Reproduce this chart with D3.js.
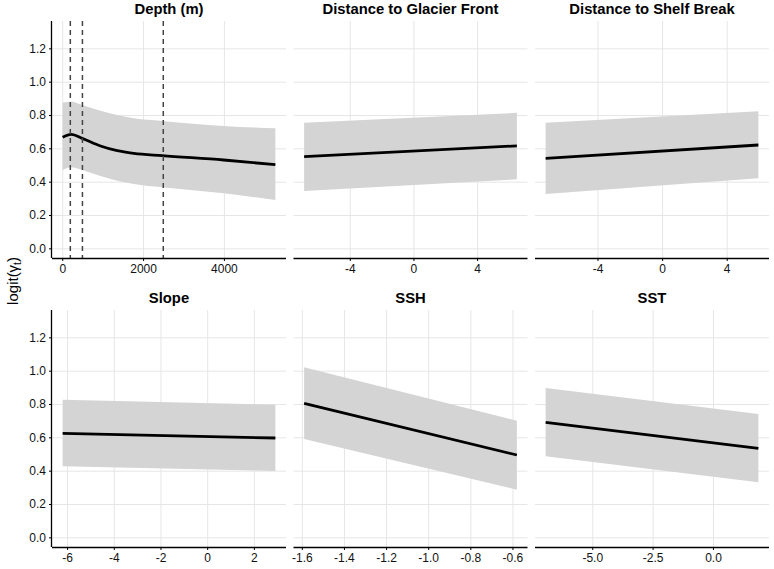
<!DOCTYPE html>
<html>
<head>
<meta charset="utf-8">
<script src="https://cdn.jsdelivr.net/npm/d3@7"></script>
<style>
body { margin: 0; background: #fff; }
svg { font-family: "Liberation Sans", Arial, sans-serif; }
.grid line { stroke: #e6e6e6; stroke-width: 1; }
.tick text { fill: #111; font-size: 12px; }
.title { font-weight: bold; font-size: 14.8px; }
</style>
</head>
<body>
<svg id="chart" width="774" height="569"></svg>
<script>
// panel titles, in facet order
const titles = ['Depth (m)', 'Distance to Glacier Front', 'Distance to Shelf Break', 'Slope', 'SSH', 'SST'];

// x values, one array per panel
const xs = [
    [10, 222, 494, 947, 1360, 1770, 2472, 3995, 5273],
    [-6.87, 6.5],
    [-7.21, 5.96],
    [-6.19, 2.92],
    [-1.589, -0.579],
    [-6.93, 1.88]
];
// fitted values
const fits = [
    [0.666, 0.684, 0.66, 0.614, 0.586, 0.57, 0.556, 0.53, 0.502],
    [0.55, 0.615],
    [0.54, 0.62],
    [0.624, 0.596],
    [0.804, 0.494],
    [0.69, 0.534]
];
// upper bound of the band
const highs = [
    [0.873, 0.88, 0.86, 0.826, 0.80, 0.78, 0.764, 0.734, 0.72],
    [0.753, 0.813],
    [0.753, 0.822],
    [0.826, 0.796],
    [1.02, 0.70],
    [0.896, 0.74]
];
// lower bound of the band
const lows = [
    [0.47, 0.486, 0.47, 0.434, 0.406, 0.386, 0.366, 0.33, 0.29],
    [0.344, 0.414],
    [0.326, 0.42],
    [0.426, 0.398],
    [0.59, 0.286],
    [0.486, 0.33]
];
// tick labels
const xTicks = [
    [0, 2000, 4000],
    [-4, 0, 4],
    [-4, 0, 4],
    [-6, -4, -2, 0, 2],
    [-1.6, -1.4, -1.2, -1.0, -0.8, -0.6],
    [-5.0, -2.5, 0.0]
];
const xFormats = ['d', 'd', 'd', 'd', '.1f', '.1f'];
const yTicks = [0, 0.2, 0.4, 0.6, 0.8, 1.0, 1.2];
// depth cut-offs (dashed lines)
const depthLines = [200, 500, 2500];

const svg = d3.select('#chart');
const colX = [52, 293.5, 535];
const rowY = [21, 310];
const pw = 234;
const ph = 237;

// plain hyphen for negatives, like the original
const fmt = (s) => { const f = d3.format(s); return (d) => f(d).replace('\u2212', '-'); };

titles.forEach((t, i) => {
    const col = i % 3, row = Math.floor(i / 3);
    const g = svg.append('g')
        .attr('transform', `translate(${colX[col]}, ${rowY[row]})`);

    const ext = d3.extent(xs[i]);
    const pad = (ext[1] - ext[0]) * 0.05;
    const x = d3.scaleLinear().domain([ext[0] - pad, ext[1] + pad]).range([0, pw]);
    const y = d3.scaleLinear().domain([-0.058, 1.364]).range([ph, 0]);

    // grid
    g.append('g')
        .attr('class', 'grid')
        .call(d3.axisLeft(y).tickValues(yTicks).tickSize(-pw).tickFormat(''))
        .call(a => a.select('.domain').remove());
    g.append('g')
        .attr('class', 'grid')
        .attr('transform', `translate(0, ${ph})`)
        .call(d3.axisBottom(x).tickValues(xTicks[i]).tickSize(-ph).tickFormat(''))
        .call(a => a.select('.domain').remove());

    const pts = xs[i].map((v, k) => ({ x: v, fit: fits[i][k], hi: highs[i][k], lo: lows[i][k] }));
    const curve = i === 0 ? d3.curveMonotoneX : d3.curveLinear;

    g.append('path')
        .datum(pts)
        .attr('fill', '#d4d4d4')
        .attr('d', d3.area().curve(curve).x(d => x(d.x)).y0(d => y(d.lo)).y1(d => y(d.hi)));

    g.append('path')
        .datum(pts)
        .attr('fill', 'none')
        .attr('stroke', '#000')
        .attr('stroke-width', 2.8)
        .attr('d', d3.line().curve(curve).x(d => x(d.x)).y(d => y(d.fit)));

    if (i === 0) {
        g.selectAll('.cut')
            .data(depthLines)
            .enter()
            .append('line')
            .attr('x1', d => x(d))
            .attr('x2', d => x(d))
            .attr('y1', 0)
            .attr('y2', ph)
            .attr('stroke', '#444')
            .attr('stroke-width', 1.5)
            .attr('stroke-dasharray', '5,4');
    }

    // x axis
    g.append('g')
        .attr('transform', `translate(0, ${ph})`)
        .call(d3.axisBottom(x).tickValues(xTicks[i]).tickFormat(fmt(xFormats[i])).tickSize(3).tickPadding(3))
        .call(a => a.select('.domain').attr('stroke', '#000').attr('stroke-width', 1.3).attr('d', `M0,0.5H${pw}`))
        .call(a => a.selectAll('.tick text').attr('font-family', null).attr('font-size', null));

    // y axis, first column only
    if (col === 0) {
        g.append('g')
            .call(d3.axisLeft(y).tickValues(yTicks).tickFormat(fmt('.1f')).tickSize(3).tickPadding(3))
            .call(a => a.select('.domain').attr('stroke', '#000').attr('stroke-width', 1.3).attr('d', `M-0.5,0V${ph}`))
            .call(a => a.selectAll('.tick text').attr('font-family', null).attr('font-size', null));
    }

    g.append('text')
        .attr('class', 'title')
        .attr('x', pw / 2)
        .attr('y', -7)
        .attr('text-anchor', 'middle')
        .text(t);
});

const lab = svg.append('text')
    .attr('transform', 'translate(18, 281) rotate(-90)')
    .attr('text-anchor', 'middle')
    .attr('font-size', 15);
lab.append('tspan').text('logit(γ');
lab.append('tspan').attr('font-size', 10).attr('dy', 3).text('t');
lab.append('tspan').attr('dy', -3).text(')');
</script>
</body>
</html>
